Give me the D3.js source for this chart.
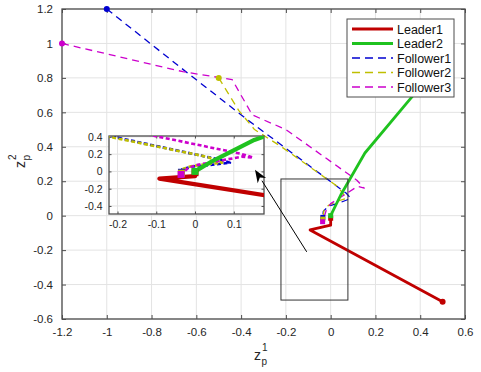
<!DOCTYPE html>
<html>
<head>
<meta charset="utf-8">
<script src="https://cdn.jsdelivr.net/npm/d3@7"></script>
<style>
  body { margin: 0; background: #fff; }
  svg { font-family: "Liberation Sans", Arial, sans-serif; }
</style>
</head>
<body>
<svg id="chart" width="481" height="372"></svg>
<script>
// trajectories [z1, z2]
const leader1 = [[0.5, -0.5], [-0.092, -0.083], [0, -0.055], [0, -0.015]]
const leader2 = [[0.5, 0.9], [0.363, 0.69], [0.153, 0.364], [0.045, 0.12], [0, 0]]
const follower1 = [[-1, 1.2], [-0.67, 0.86], [-0.37, 0.555], [0.07, 0.13], [0.09, 0.1],
    [0.04, 0.075], [-0.01, 0.055], [-0.033, 0.025], [-0.035, -0.01]]
const follower2 = [[-0.5, 0.8], [-0.41, 0.61], [-0.34, 0.5], [-0.22, 0.4], [0.03, 0.17],
    [0.06, 0.12], [0.07, 0.1], [0.03, 0.085], [-0.01, 0.06], [-0.03, 0.03], [-0.035, -0.02]]
const follower3 = [[-1.2, 1], [-0.66, 0.836], [-0.44, 0.79], [-0.35, 0.585], [-0.2, 0.5],
    [0.117, 0.206], [0.15, 0.16], [0.12, 0.17], [0.06, 0.12], [0, 0.07], [-0.02, 0.03], [-0.036, -0.035]]

const names = ['Leader1', 'Leader2', 'Follower1', 'Follower2', 'Follower3']
const colors = ['#c00000', '#1fc21f', '#0000d0', '#bfbf00', '#cc00cc']
const dashed = [false, false, true, true, true]
const series = [leader1, leader2, follower1, follower2, follower3]

const xTicks = [-1.2, -1, -0.8, -0.6, -0.4, -0.2, 0, 0.2, 0.4, 0.6]
const yTicks = [-0.6, -0.4, -0.2, 0, 0.2, 0.4, 0.6, 0.8, 1, 1.2]
const insetXTicks = [-0.2, -0.1, 0, 0.1]
const insetYTicks = [-0.4, -0.2, 0, 0.2, 0.4]
// zoom rectangle and arrow, in main data units
const zoomBox = { x0: -0.222, x1: 0.077, y0: -0.49, y1: 0.213 }
const arrow = { from: [-0.107, -0.21], to: [-0.338, 0.267] }

const fmt = d => String(+d.toFixed(2))
const svg = d3.select('#chart')
const axisColor = '#4d4d4d'
const gridColor = '#e3e3e3'

const main = { left: 62, right: 465, top: 9, bottom: 319 }
const x = d3.scaleLinear().domain([-1.2, 0.6]).range([main.left, main.right])
const y = d3.scaleLinear().domain([-0.6, 1.2]).range([main.bottom, main.top])

const inset = { left: 109, right: 264, top: 136, bottom: 214 }
const xi = d3.scaleLinear().domain([-0.222, 0.178]).range([inset.left, inset.right])
const yi = d3.scaleLinear().domain([-0.493, 0.41]).range([inset.bottom, inset.top])

const defs = svg.append('defs')
defs.append('clipPath').attr('id', 'clipMain').append('rect')
    .attr('x', main.left).attr('y', main.top)
    .attr('width', main.right - main.left).attr('height', main.bottom - main.top)
defs.append('clipPath').attr('id', 'clipInset').append('rect')
    .attr('x', inset.left).attr('y', inset.top)
    .attr('width', inset.right - inset.left).attr('height', inset.bottom - inset.top)

const drawAxes = (g, sx, sy, xt, yt, box, tickLen, fontSize, pad) => {
    g.append('rect')
        .attr('x', box.left).attr('y', box.top)
        .attr('width', box.right - box.left).attr('height', box.bottom - box.top)
        .attr('fill', '#fff')
    g.append('g').selectAll('line').data(xt).enter().append('line')
        .attr('x1', d => sx(d)).attr('x2', d => sx(d))
        .attr('y1', box.top).attr('y2', box.bottom)
        .attr('stroke', gridColor).attr('stroke-width', 1)
    g.append('g').selectAll('line').data(yt).enter().append('line')
        .attr('y1', d => sy(d)).attr('y2', d => sy(d))
        .attr('x1', box.left).attr('x2', box.right)
        .attr('stroke', gridColor).attr('stroke-width', 1)

    const bottomAxis = d3.axisBottom(sx).tickValues(xt).tickFormat(fmt)
        .tickSizeInner(-tickLen).tickSizeOuter(0).tickPadding(tickLen + pad)
    const topAxis = d3.axisTop(sx).tickValues(xt).tickFormat('')
        .tickSizeInner(-tickLen).tickSizeOuter(0)
    const leftAxis = d3.axisLeft(sy).tickValues(yt).tickFormat(fmt)
        .tickSizeInner(-tickLen).tickSizeOuter(0).tickPadding(tickLen + pad)
    const rightAxis = d3.axisRight(sy).tickValues(yt).tickFormat('')
        .tickSizeInner(-tickLen).tickSizeOuter(0)

    const axes = [
        [bottomAxis, `translate(0,${box.bottom})`],
        [topAxis, `translate(0,${box.top})`],
        [leftAxis, `translate(${box.left},0)`],
        [rightAxis, `translate(${box.right},0)`]
    ]
    axes.forEach(([ax, tr]) => {
        const a = g.append('g').attr('transform', tr).call(ax)
        a.select('.domain').remove()
        a.selectAll('line').attr('stroke', axisColor)
        a.selectAll('text').attr('fill', '#262626')
            .style('font-size', fontSize + 'px')
            .style('font-family', '"Liberation Sans", Arial, sans-serif')
    })
    g.append('rect')
        .attr('x', box.left).attr('y', box.top)
        .attr('width', box.right - box.left).attr('height', box.bottom - box.top)
        .attr('fill', 'none').attr('stroke', axisColor).attr('stroke-width', 1.3)
}

const drawSeries = (g, sx, sy, clip, lw, dw, dash, markR, sq, clipMarks) => {
    const line = d3.line().x(d => sx(d[0])).y(d => sy(d[1]))
    const layer = g.append('g').attr('clip-path', `url(#${clip})`)
    const marks = g.append('g').attr('clip-path', clipMarks ? `url(#${clip})` : null)
    // followers first so leaders stay on top
    const order = [2, 3, 4, 0, 1]
    order.forEach(i => {
        layer.append('path')
            .datum(series[i])
            .attr('d', line)
            .attr('fill', 'none')
            .attr('stroke', colors[i])
            .attr('stroke-width', dashed[i] ? dw : lw)
            .attr('stroke-dasharray', dashed[i] ? dash : null)
            .attr('stroke-linejoin', 'round')
    })
    order.forEach(i => {
        const s = series[i]
        const a = s[0], b = s[s.length - 1]
        if (!clipMarks || (sx.domain()[0] <= a[0] && a[0] <= sx.domain()[1])) {
            marks.append('circle')
                .attr('cx', sx(a[0])).attr('cy', sy(a[1])).attr('r', markR)
                .attr('fill', colors[i])
        }
        marks.append('rect')
            .attr('x', sx(b[0]) - sq / 2).attr('y', sy(b[1]) - sq / 2)
            .attr('width', sq).attr('height', sq)
            .attr('fill', colors[i])
    })
}

// main axes
const gMain = svg.append('g')
drawAxes(gMain, x, y, xTicks, yTicks, main, 4, 11.5, 5)
drawSeries(gMain, x, y, 'clipMain', 2.8, 1.3, '7,5', 3, 5, false)

// zoom rectangle
gMain.append('rect')
    .attr('x', x(zoomBox.x0)).attr('y', y(zoomBox.y1))
    .attr('width', x(zoomBox.x1) - x(zoomBox.x0))
    .attr('height', y(zoomBox.y0) - y(zoomBox.y1))
    .attr('fill', 'none').attr('stroke', '#333').attr('stroke-width', 1)

// legend
const lg = svg.append('g')
lg.append('rect').attr('x', 347).attr('y', 19).attr('width', 107).attr('height', 78)
    .attr('fill', '#fff').attr('stroke', axisColor).attr('stroke-width', 1)
names.forEach((n, i) => {
    const yy = 29 + i * 14.5
    lg.append('line').attr('x1', 352).attr('x2', 393).attr('y1', yy).attr('y2', yy)
        .attr('stroke', colors[i]).attr('stroke-width', dashed[i] ? 1.3 : 2.8)
        .attr('stroke-dasharray', dashed[i] ? '8,5' : null)
    lg.append('text').attr('x', 397).attr('y', yy + 4.5).text(n)
        .attr('fill', '#111').style('font-size', '12.5px')
})

// inset axes
const gInset = svg.append('g')
drawAxes(gInset, xi, yi, insetXTicks, insetYTicks, inset, 2.5, 10.5, 4)
drawSeries(gInset, xi, yi, 'clipInset', 4.2, 2.6, '4,2.5', 3.5, 7, true)

// arrow
const ax0 = x(arrow.from[0]), ay0 = y(arrow.from[1])
const ax1 = x(arrow.to[0]), ay1 = y(arrow.to[1])
const ang = Math.atan2(ay1 - ay0, ax1 - ax0)
const hl = 13, hw = 5
const bx = ax1 - hl * Math.cos(ang), by = ay1 - hl * Math.sin(ang)
svg.append('line').attr('x1', ax0).attr('y1', ay0).attr('x2', bx).attr('y2', by)
    .attr('stroke', '#000').attr('stroke-width', 1)
svg.append('path')
    .attr('d', `M${ax1},${ay1}L${bx + hw * Math.sin(ang)},${by - hw * Math.cos(ang)}` +
        `L${ax1 - 0.7 * hl * Math.cos(ang)},${ay1 - 0.7 * hl * Math.sin(ang)}` +
        `L${bx - hw * Math.sin(ang)},${by + hw * Math.cos(ang)}Z`)
    .attr('fill', '#000')

// axis labels
const xl = svg.append('text').attr('x', 254).attr('y', 360).attr('fill', '#262626')
    .style('font-size', '14px')
xl.append('tspan').text('z')
xl.append('tspan').attr('dx', 1).attr('dy', -9).style('font-size', '10px').text('1')
xl.append('tspan').attr('dx', -6).attr('dy', 14).style('font-size', '10px').text('p')

const yl = svg.append('text').attr('transform', 'translate(25,168) rotate(-90)')
    .attr('fill', '#262626').style('font-size', '14px')
yl.append('tspan').text('z')
yl.append('tspan').attr('dx', 1).attr('dy', -9).style('font-size', '10px').text('2')
yl.append('tspan').attr('dx', -6).attr('dy', 14).style('font-size', '10px').text('p')
</script>
</body>
</html>
